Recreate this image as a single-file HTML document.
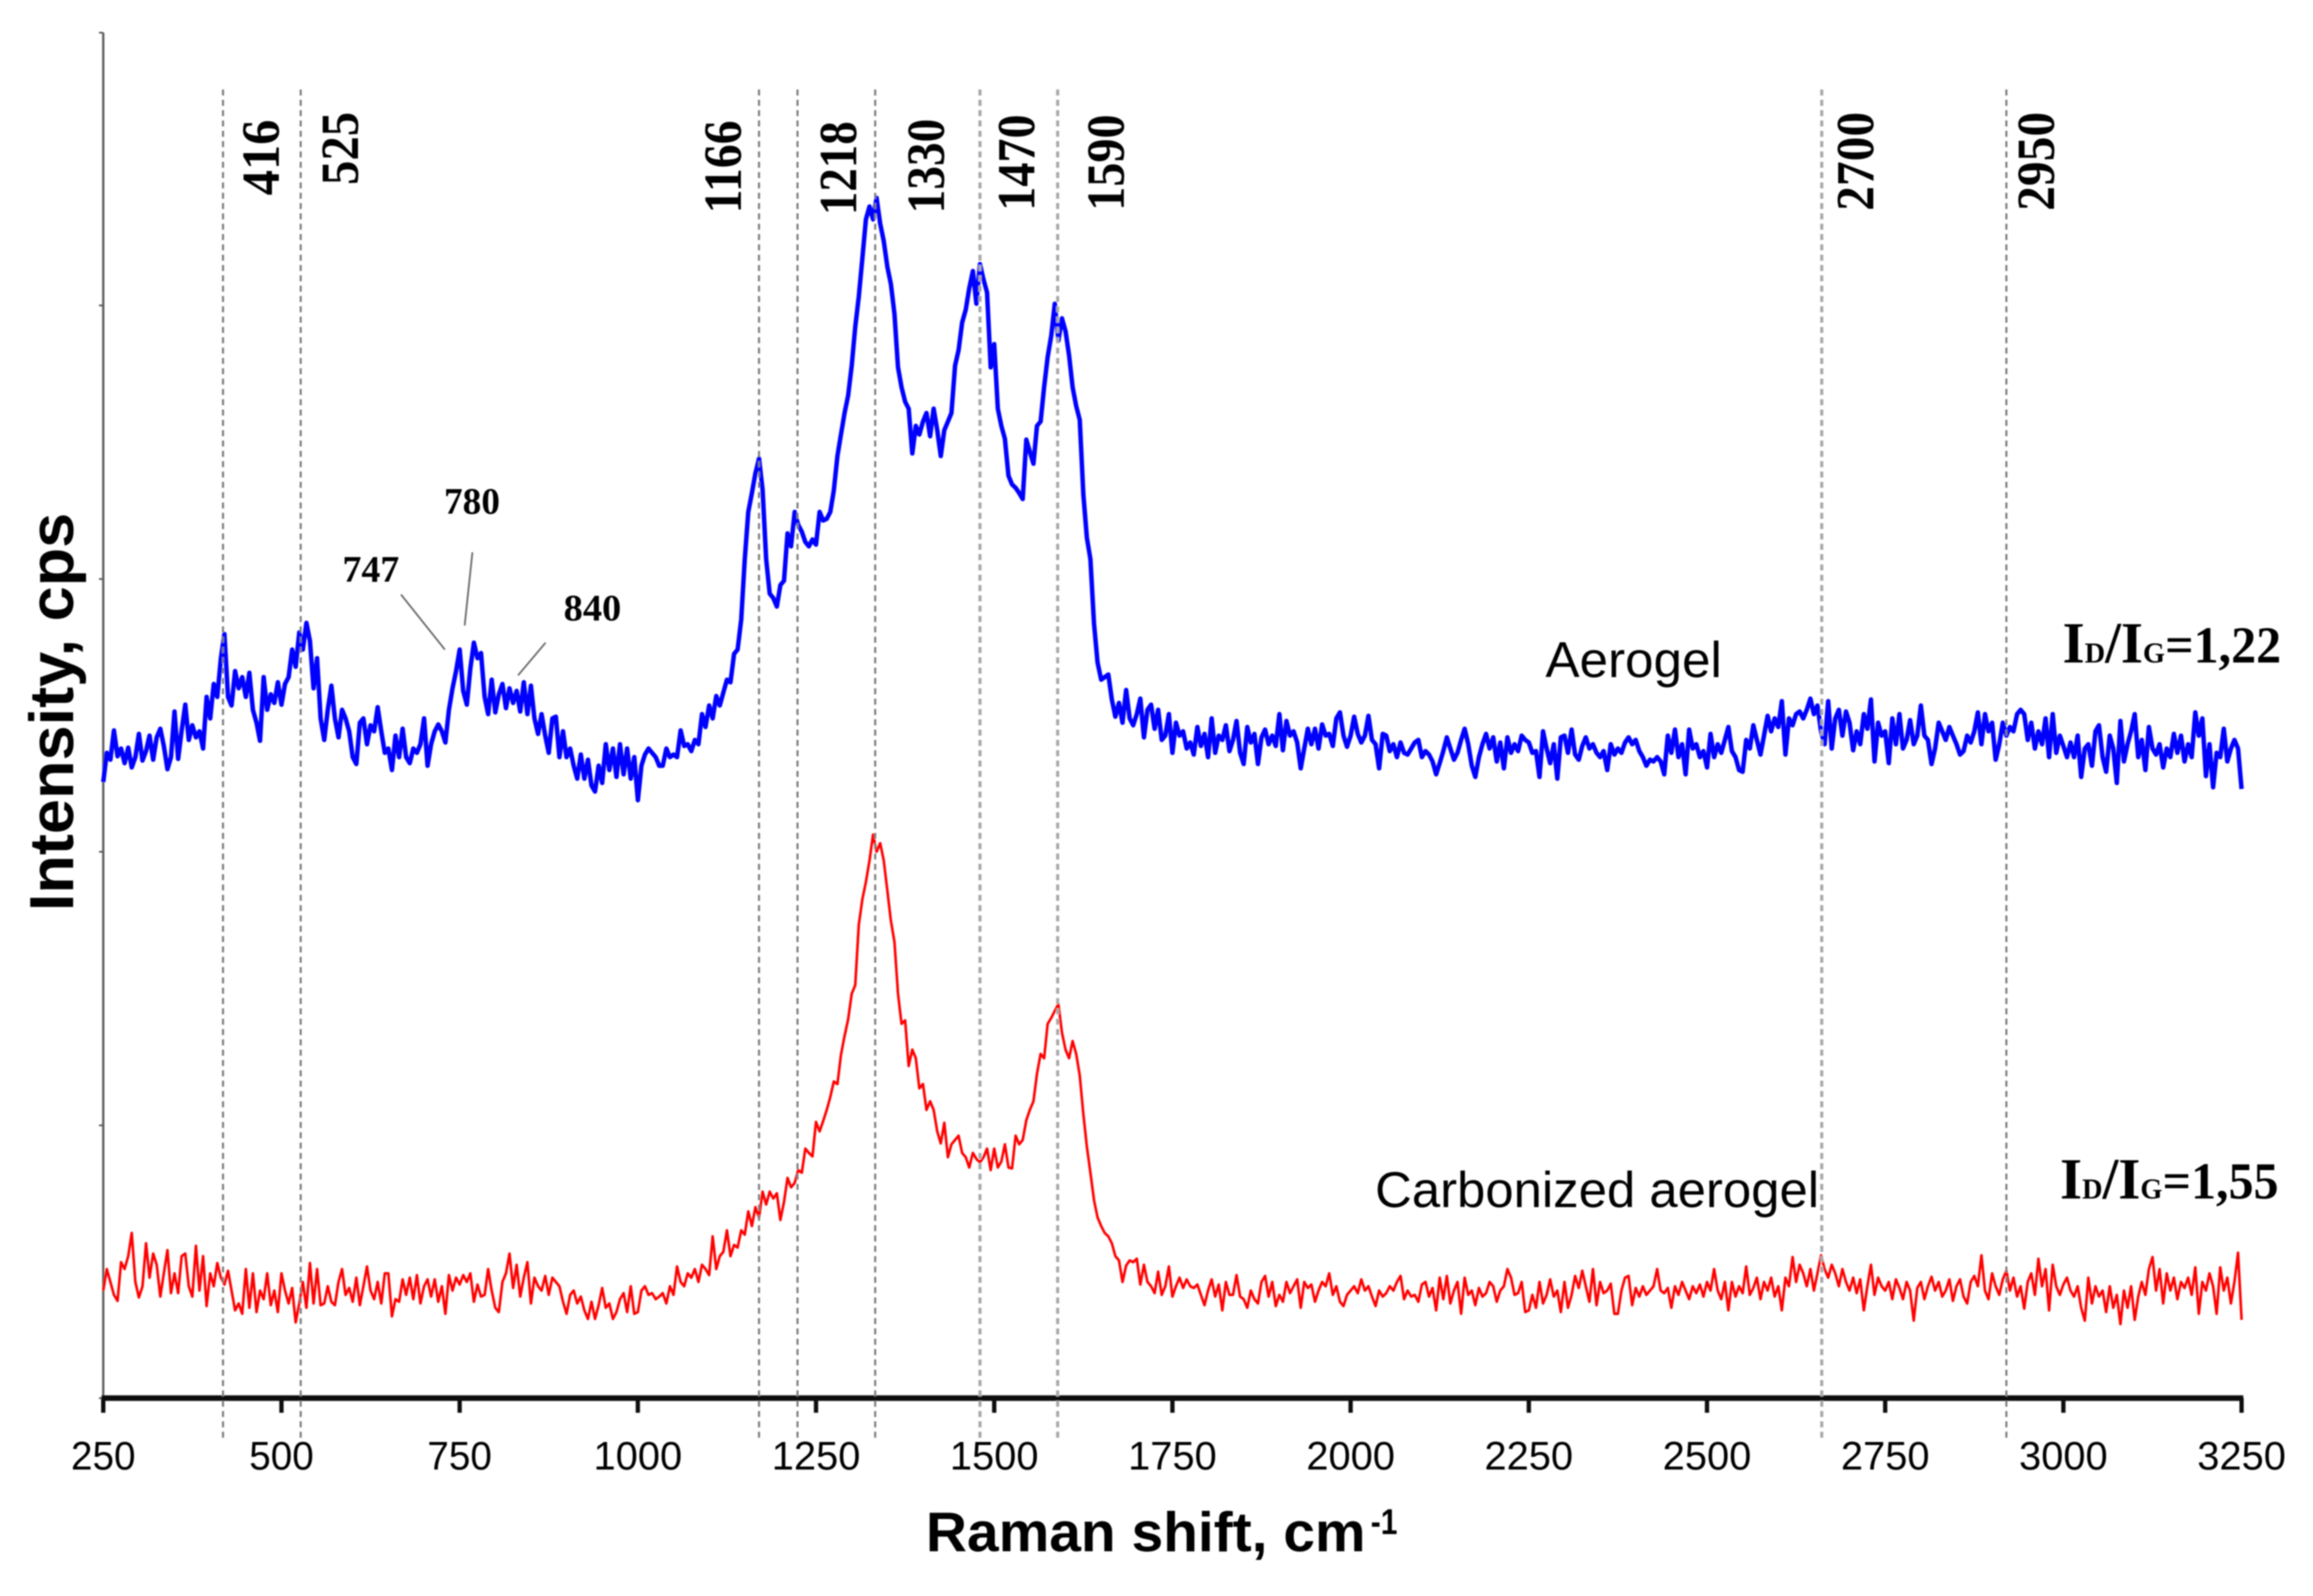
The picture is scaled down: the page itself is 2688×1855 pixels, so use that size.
<!DOCTYPE html>
<html lang="en">
<head>
<meta charset="utf-8">
<title>Raman spectra of aerogel and carbonized aerogel</title>
<style>
html,body{margin:0;padding:0;background:#fff;}
svg{display:block;}
text{fill:#000;}
.sans{font-family:"Liberation Sans",sans-serif;}
.serif{font-family:"Liberation Serif",serif;font-weight:bold;}
</style>
</head>
<body>
<svg id="chart" xmlns="http://www.w3.org/2000/svg" width="2688" height="1855" viewBox="0 0 2688 1855">
<defs><filter id="soft" x="-2%" y="-2%" width="104%" height="104%"><feGaussianBlur stdDeviation="0.7"/></filter></defs>
<rect x="0" y="0" width="2688" height="1855" fill="#fff"/>
<g id="plot" filter="url(#soft)">
<g id="axes"></g>
<g id="series"></g>
<g id="peaks"></g>

<g class="serif" font-size="62">
<text transform="translate(324 227) rotate(-90)" textLength="88" lengthAdjust="spacingAndGlyphs">416</text>
<text transform="translate(416 215) rotate(-90)" textLength="85" lengthAdjust="spacingAndGlyphs">525</text>
<text transform="translate(861 248) rotate(-90)" textLength="108" lengthAdjust="spacingAndGlyphs">1166</text>
<text transform="translate(995 250) rotate(-90)" textLength="109" lengthAdjust="spacingAndGlyphs">1218</text>
<text transform="translate(1097 248) rotate(-90)" textLength="110" lengthAdjust="spacingAndGlyphs">1330</text>
<text transform="translate(1202 245) rotate(-90)" textLength="112" lengthAdjust="spacingAndGlyphs">1470</text>
<text transform="translate(1306 245) rotate(-90)" textLength="112" lengthAdjust="spacingAndGlyphs">1590</text>
<text transform="translate(2177 245) rotate(-90)" textLength="115" lengthAdjust="spacingAndGlyphs">2700</text>
<text transform="translate(2387 245) rotate(-90)" textLength="115" lengthAdjust="spacingAndGlyphs">2950</text>
</g>

<g>
<text class="serif" font-size="43" x="398" y="676" textLength="66" lengthAdjust="spacingAndGlyphs">747</text>
<text class="serif" font-size="43" x="516" y="597" textLength="65" lengthAdjust="spacingAndGlyphs">780</text>
<text class="serif" font-size="43" x="655" y="721" textLength="67" lengthAdjust="spacingAndGlyphs">840</text>
<line x1="466" y1="691" x2="517" y2="755" stroke="#666" stroke-width="2"/>
<line x1="549" y1="642" x2="540" y2="727" stroke="#666" stroke-width="2"/>
<line x1="634" y1="747" x2="602" y2="785" stroke="#666" stroke-width="2"/>
</g>

<text class="sans" font-size="58" x="1796" y="787" textLength="205" lengthAdjust="spacingAndGlyphs">Aerogel</text>
<text class="sans" font-size="58" x="1598" y="1403" textLength="516" lengthAdjust="spacingAndGlyphs">Carbonized aerogel</text>

<text class="serif" font-size="60" x="2397" y="770" textLength="254" lengthAdjust="spacingAndGlyphs"><tspan font-size="68">I</tspan><tspan font-size="34">D</tspan><tspan font-size="68">/I</tspan><tspan font-size="34">G</tspan>=1,22</text>
<text class="serif" font-size="60" x="2394" y="1393" textLength="254" lengthAdjust="spacingAndGlyphs"><tspan font-size="68">I</tspan><tspan font-size="34">D</tspan><tspan font-size="68">/I</tspan><tspan font-size="34">G</tspan>=1,55</text>

<text class="sans" font-weight="bold" font-size="72" transform="translate(85 1059) rotate(-90)" textLength="463" lengthAdjust="spacingAndGlyphs">Intensity, cps</text>
<text class="sans" font-weight="bold" font-size="65" x="1076" y="1803" textLength="511" lengthAdjust="spacingAndGlyphs">Raman shift, cm</text>
<text class="sans" font-weight="bold" font-size="42" x="1593" y="1783" textLength="31" lengthAdjust="spacingAndGlyphs">-1</text>
</g>
</svg>

<script>
const xTickValues = [250,500,750,1000,1250,1500,1750,2000,2250,2500,2750,3000,3250];
const yTickValues = [0,317,635,952,1270,1587];
const peakPositions = [418,527,1170,1224,1333,1480,1589,2661,2920];
const softPeaks = [1480,1589,2661];
const shiftStart = 250;
const shiftStep = 5;

const aerogelValues = [
716,750,742,776,746,755,738,756,733,745,772,741,752,770,742,768,778,758,731,745,
798,743,776,806,765,782,768,775,755,815,790,830,815,860,888,815,805,845,825,838,
815,843,800,785,764,838,800,818,808,832,806,830,838,870,850,890,870,901,880,825,
860,790,765,800,828,790,768,800,790,775,745,737,785,790,760,782,775,803,775,750,
755,730,770,745,778,745,738,755,750,760,790,735,760,775,783,775,762,800,825,845,
870,822,806,848,878,860,866,815,795,835,797,818,830,802,825,808,822,798,832,795,
828,790,772,795,770,750,790,792,745,775,745,755,735,720,748,720,742,712,705,735,
715,760,730,755,722,760,725,755,720,745,695,735,748,755,750,745,735,735,755,745,
748,745,776,758,760,752,765,760,795,780,805,790,816,805,820,835,832,865,870,905,
975,1030,1052,1075,1092,1056,975,935,930,920,945,950,1005,990,1030,1015,1007,995,990,998,
992,1030,1020,1022,1030,1055,1095,1120,1145,1165,1200,1245,1280,1325,1370,1385,1370,1395,1365,1345,
1315,1295,1260,1198,1175,1158,1150,1098,1130,1120,1135,1145,1118,1150,1125,1095,1125,1135,1145,1200,
1218,1250,1265,1290,1310,1272,1318,1300,1285,1198,1225,1150,1130,1115,1072,1062,1058,1052,1045,1114,
1100,1086,1130,1135,1175,1210,1235,1272,1229,1255,1240,1212,1175,1153,1137,1050,1000,975,900,855,
835,838,841,812,792,808,785,823,790,782,795,813,768,800,806,778,800,765,770,795,
750,785,770,775,755,762,748,780,758,772,745,790,750,770,765,782,752,765,787,750,
737,780,762,772,737,768,777,760,770,758,795,753,787,770,775,762,732,755,778,760,
778,755,783,770,772,758,790,797,770,757,770,792,772,762,770,793,765,760,732,772,
770,752,760,745,762,750,748,755,762,765,745,752,748,740,725,738,752,768,755,742,
750,765,778,760,735,722,745,760,772,755,768,740,762,732,768,750,760,752,770,765,
762,750,752,722,775,755,738,760,720,768,770,750,777,748,742,758,768,755,760,750,
745,752,730,760,748,755,750,762,768,760,765,752,745,735,742,740,745,740,725,770,
750,777,745,760,725,777,755,760,745,752,733,772,745,760,750,765,780,752,745,730,
728,765,755,782,765,748,770,793,775,790,780,810,748,790,782,795,798,790,800,813,
795,805,775,760,810,755,790,800,770,798,785,753,775,760,795,778,812,740,785,770,
775,738,790,760,795,755,765,788,760,770,805,770,765,737,755,785,775,765,780,770,
760,748,752,770,762,775,797,760,795,775,785,742,760,785,770,780,775,795,800,795,
765,785,755,775,760,790,745,795,750,770,758,745,762,745,770,722,755,760,735,775,
782,745,728,770,755,715,787,740,760,775,795,745,765,730,780,755,748,760,733,755,
745,772,750,770,740,760,745,797,770,790,723,760,710,750,745,778,740,755,765,755,
708
];

const carbonizedValues = [
125,150,135,120,113,158,150,165,192,135,117,130,180,140,168,155,118,145,172,122,
145,122,165,168,130,118,177,125,165,107,145,130,157,140,132,148,125,102,110,98,
150,105,145,100,125,115,145,108,125,100,145,125,110,128,88,110,135,105,157,110,
150,108,110,130,112,108,135,150,120,128,112,140,108,130,153,125,115,135,110,145,
145,95,115,112,138,120,140,115,143,110,130,138,118,138,112,130,98,143,125,140,
132,143,135,145,112,132,118,120,150,125,105,100,135,145,168,128,155,118,140,158,
110,140,130,125,142,120,140,135,130,112,98,120,125,110,118,102,92,112,92,108,
128,105,110,92,100,115,122,100,130,98,100,125,130,120,122,115,118,122,110,130,
120,153,135,130,145,140,150,135,155,150,143,188,150,165,170,195,165,178,175,195,
190,217,200,222,210,240,225,240,232,238,207,228,256,245,250,265,262,290,285,281,
321,310,322,335,350,368,365,399,421,440,470,480,550,580,600,625,655,635,645,625,
590,555,530,470,435,439,386,405,395,360,365,335,345,335,310,296,320,280,295,300,
305,285,280,268,285,278,274,280,290,265,290,268,275,295,268,267,305,295,300,323,
335,345,377,400,395,435,442,450,458,425,405,395,415,400,375,330,292,262,230,210,
200,192,188,180,165,160,135,154,160,158,162,132,155,135,130,122,147,120,130,153,
118,130,140,128,138,130,128,132,120,108,125,138,118,132,102,135,120,120,143,118,
115,105,125,115,110,135,142,118,135,107,120,112,135,122,130,138,105,135,128,132,
112,125,135,130,145,120,130,112,107,120,125,130,122,138,125,130,118,107,125,118,
122,130,125,135,142,115,125,118,120,112,132,135,118,128,102,140,115,142,110,125,
135,98,140,120,125,108,128,118,122,135,130,112,125,130,150,140,120,122,135,100,
102,120,105,135,110,120,138,118,125,100,135,105,120,142,128,148,130,112,150,108,
135,122,125,133,98,98,125,140,142,108,128,118,130,120,125,130,150,125,122,128,
105,130,120,135,125,115,130,122,132,118,135,125,150,125,115,135,102,135,118,130,
122,153,120,128,140,115,135,125,140,118,130,102,140,130,164,135,155,145,130,150,
125,145,166,150,140,155,145,130,150,135,125,140,122,138,102,130,155,120,140,130,
125,135,115,138,128,115,135,125,90,128,135,115,130,141,125,135,118,125,138,113,
130,138,118,110,135,142,130,166,125,115,145,130,120,138,148,125,140,118,130,104,
135,145,120,162,130,150,102,155,130,120,132,140,125,118,130,105,90,140,110,130,
118,125,100,130,105,120,86,125,105,130,91,118,135,120,150,164,125,150,110,145,
125,140,115,135,128,140,120,152,98,135,125,145,130,98,152,125,140,110,135,169,
91
];

const SVG_NS = 'http://www.w3.org/2000/svg';
const plotLeft = 120, plotRight = 2605, plotBottom = 1625, plotTop = 38;
const xMin = 250, xMax = 3250, yMin = 0, yMax = 1587;
function xScale(v){ return plotLeft + (v - xMin) * (plotRight - plotLeft) / (xMax - xMin); }
function yScale(v){ return plotBottom - (v - yMin) * (plotBottom - plotTop) / (yMax - yMin); }

function make(tag, attrs, parent){
  const el = document.createElementNS(SVG_NS, tag);
  for (const k in attrs) el.setAttribute(k, attrs[k]);
  parent.appendChild(el);
  return el;
}

const axes = document.getElementById('axes');

const yAxisLine = make('line', {x1:plotLeft, y1:yScale(yMax), x2:plotLeft, y2:yScale(yMin), stroke:'#5a5a5a', 'stroke-width':2.6}, axes);



yTickValues.forEach(function(t){
  const tick = make('line', {x1:plotLeft-5, y1:yScale(t), x2:plotLeft, y2:yScale(t), stroke:'#5a5a5a', 'stroke-width':2}, axes);
  
  
});

const xAxisLine = make('line', {x1:plotLeft-2, y1:plotBottom, x2:plotRight+2, y2:plotBottom, stroke:'#111', 'stroke-width':6.5}, axes);



xTickValues.forEach(function(t){
  const tick = make('line', {x1:xScale(t), y1:plotBottom, x2:xScale(t), y2:plotBottom+17, stroke:'#111', 'stroke-width':5}, axes);
  
  
  const digits = String(t).length;
  const label = make('text', {x:xScale(t), y:1708, 'text-anchor':'middle', class:'sans', 'font-size':46, textLength:digits === 3 ? 75 : 103, lengthAdjust:'spacingAndGlyphs'}, axes);
  label.textContent = String(t);
  
  
});

function linePath(values){
  let d = '';
  values.forEach(function(v, i){
    const px = xScale(shiftStart + i * shiftStep);
    d += (i ? 'L' : 'M') + px.toFixed(1) + ' ' + yScale(v).toFixed(1);
  });
  return d;
}

const seriesGroup = document.getElementById('series');

const aerogelLine = make('path', {d:linePath(aerogelValues), fill:'none', stroke:'#0000ff', 'stroke-width':5.2, 'stroke-linejoin':'round'}, seriesGroup);



const carbonizedLine = make('path', {d:linePath(carbonizedValues), fill:'none', stroke:'#ff0000', 'stroke-width':3, 'stroke-linejoin':'round'}, seriesGroup);



const peaksGroup = document.getElementById('peaks');
peakPositions.forEach(function(p){
  const soft = softPeaks.indexOf(p) >= 0;
  const guide = make('line', {x1:xScale(p), y1:104, x2:xScale(p), y2:1672, stroke:soft ? '#a8a8a8' : '#7c7c7c', 'stroke-width':soft ? 3.6 : 2.4, 'stroke-dasharray':'7 5'}, peaksGroup);
  
  
});
</script>
</body>
</html>
